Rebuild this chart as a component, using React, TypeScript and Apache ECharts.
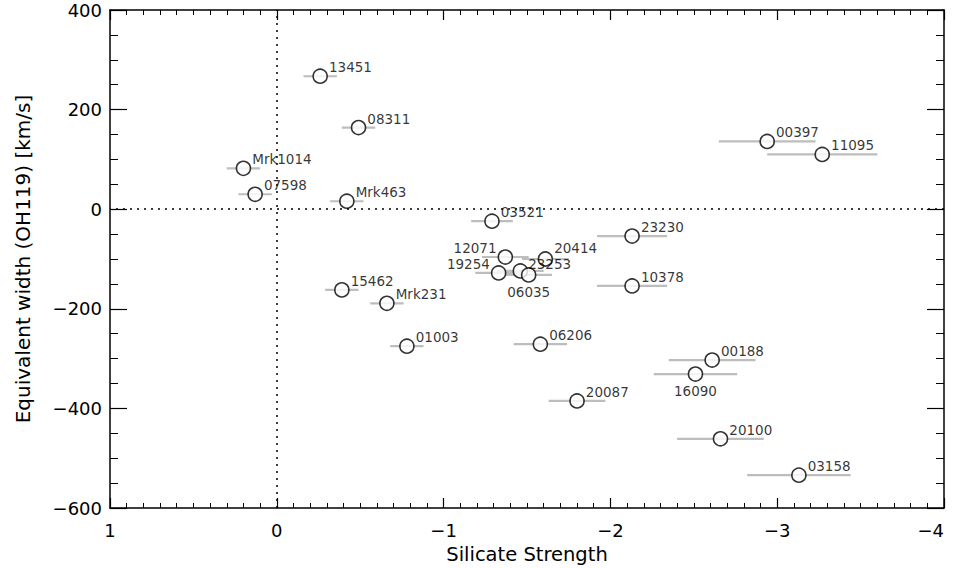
import React, { useEffect, useRef } from "react";
import * as echarts from "echarts";

const names = ["13451", "08311", "Mrk1014", "07598", "Mrk463", "03521", "23230", "12071", "20414", "19254", "23253", "06035", "10378", "15462", "Mrk231", "01003", "06206", "20087", "00397", "11095", "00188", "16090", "20100", "03158"];
const silicate = [-0.26, -0.49, 0.2, 0.13, -0.42, -1.29, -2.13, -1.37, -1.61, -1.33, -1.46, -1.51, -2.13, -0.39, -0.66, -0.78, -1.58, -1.8, -2.94, -3.27, -2.61, -2.51, -2.66, -3.13];
const eqWidth = [267, 164, 82, 30, 16, -24, -54, -96, -100, -128, -124, -132, -154, -162, -189, -275, -271, -385, 136, 110, -303, -331, -461, -534];
const silicateErr = [0.1, 0.1, 0.1, 0.1, 0.1, 0.125, 0.21, 0.14, 0.14, 0.14, 0.14, 0.14, 0.21, 0.1, 0.1, 0.1, 0.16, 0.17, 0.29, 0.33, 0.26, 0.25, 0.26, 0.31];
const labelPlace = ["ur", "ur", "ur", "ur", "ur", "ur", "ur", "l", "urHigh", "l", "urLow", "b", "ur", "ur", "ur", "ur", "ur", "ur", "ur", "ur", "ur", "b", "ur", "ur"];

const xTicks = [1, 0, -1, -2, -3, -4];
const yTicks = [-600, -400, -200, 0, 200, 400];

const fmt = (v: number) => (v < 0 ? "\u2212" + Math.abs(v) : String(v));

export default function App() {
  const ref = useRef<HTMLDivElement>(null);
  useEffect(() => {
    if (!ref.current) return;
    document.documentElement.style.overflow = "hidden";
    document.body.style.margin = "0";
    document.body.style.overflow = "hidden";
    const chart = echarts.init(ref.current, null, { renderer: "svg" });
    const labelFor = (p: string) => {
      if (p === "b") return { position: "bottom", distance: 2, offset: [0, 0] };
      if (p === "l") return { position: "left", distance: 1, offset: [0, -9] };
      if (p === "urHigh") return { position: "right", distance: 1, offset: [0, -11] };
      if (p === "urLow") return { position: "right", distance: 0, offset: [0, -7] };
      return { position: "right", distance: 1, offset: [0, -9] };
    };
    const pts = names.map((n, i) => ({
      name: n,
      value: [silicate[i], eqWidth[i]],
      label: labelFor(labelPlace[i]),
    }));
    const bars = names.map((n, i) => [silicate[i], eqWidth[i], silicateErr[i]]);
    const axisFont = { fontFamily: "DejaVu Sans", fontSize: 18, color: "#000" };
    const baseX = {
      type: "value",
      min: xTicks[xTicks.length - 1],
      max: xTicks[0],
      interval: 1,
      inverse: true,
      splitLine: { show: false },
      axisLine: { show: true, onZero: false, lineStyle: { color: "#000", width: 1.5 } },
      axisTick: { show: true, inside: true, length: 10, lineStyle: { color: "#000", width: 1.2 } },
      minorTick: { show: true, splitNumber: 10, length: 5, lineStyle: { color: "#000", width: 1 } },
    };
    const baseY = {
      type: "value",
      min: yTicks[0],
      max: yTicks[yTicks.length - 1],
      interval: 200,
      splitLine: { show: false },
      axisLine: { show: true, onZero: false, lineStyle: { color: "#000", width: 1.5 } },
      axisTick: { show: true, inside: true, length: 17, lineStyle: { color: "#000", width: 1.2 } },
      minorTick: { show: true, splitNumber: 4, length: 8, lineStyle: { color: "#000", width: 1 } },
    };
    chart.setOption({
      animation: false,
      grid: { left: 110, right: 11, top: 10, bottom: 60, containLabel: false, outerBoundsMode: "none" },
      xAxis: [
        {
          ...baseX,
          position: "bottom",
          name: "Silicate Strength",
          nameLocation: "middle",
          nameGap: 36,
          nameTextStyle: { ...axisFont, fontSize: 19.5 },
          axisLabel: { ...axisFont, margin: 13, formatter: fmt, alignMinLabel: "right" },
        },
        { ...baseX, position: "top", axisLabel: { show: false } },
      ],
      yAxis: [
        {
          ...baseY,
          position: "left",
          name: "Equivalent width (OH119) [km/s]",
          nameLocation: "middle",
          nameGap: 77,
          nameTextStyle: { ...axisFont, fontSize: 20 },
          axisLabel: { ...axisFont, margin: 8, formatter: fmt },
        },
        { ...baseY, position: "right", axisLabel: { show: false } },
      ],
      series: [
        {
          type: "custom",
          silent: true,
          data: bars,
          renderItem: (params: any, api: any) => {
            const x = api.value(0);
            const y = api.value(1);
            const e = api.value(2);
            const a = api.coord([x + e, y]);
            const b = api.coord([x - e, y]);
            return {
              type: "line",
              shape: { x1: a[0], y1: a[1], x2: b[0], y2: b[1] },
              style: { stroke: "#bdbdbd", lineWidth: 2.2 },
            };
          },
          z: 1,
        },
        {
          type: "scatter",
          symbol: "circle",
          symbolSize: 14,
          itemStyle: { color: "#fff", borderColor: "#000", borderWidth: 1.6 },
          label: {
            show: true,
            formatter: "{b}",
            color: "#000",
            fontFamily: "DejaVu Sans",
            fontSize: 13.5,
            lineHeight: 14,
          },
          data: pts,
          z: 3,
          markLine: {
            silent: true,
            symbol: "none",
            label: { show: false },
            lineStyle: { color: "#000", type: [2, 5], width: 1.5 },
            data: [{ xAxis: 0 }, { yAxis: 0 }],
          },
        },
      ],
    });
    return () => chart.dispose();
  }, []);
  return (
    <div
      ref={ref}
      style={{ position: "fixed", left: 0, top: 0, width: 955, height: 568, background: "#fff", overflow: "hidden" }}
    />
  );
}
